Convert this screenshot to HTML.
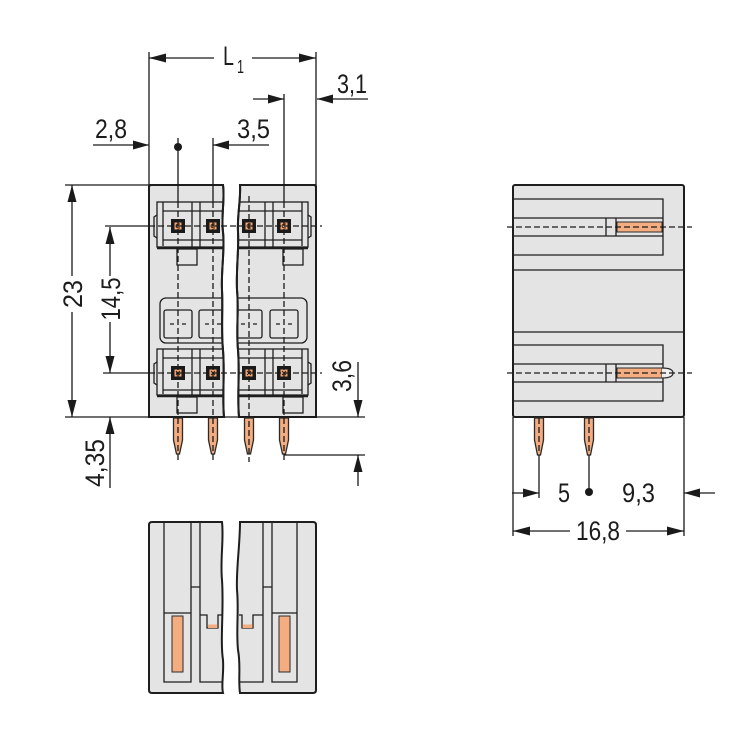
<!DOCTYPE html>
<html><head><meta charset="utf-8"><style>
html,body{margin:0;padding:0;background:#fff;}
svg{display:block;}
text{font-family:"Liberation Sans",Arial,sans-serif;fill:#1c1c1c;}
</style></head><body>
<svg width="750" height="750" viewBox="0 0 750 750" xmlns="http://www.w3.org/2000/svg">
<defs>
<clipPath id="fc">
<path d="M151,185 H223 C225,200 221,215 223,232 C225,250 221,270 222,290 C223,310 221,330 223,350 C225,375 222,395 224,417 H149 V187 Q149,185 151,185 Z"/>
<path d="M240,185 H314 Q316,185 316,187 V417 H239 C237,395 240,375 238,350 C236,330 239,310 237,290 C236,270 239,250 238,232 C237,215 241,200 240,185 Z"/>
</clipPath>
</defs>

<!-- ============ FRONT VIEW ============ -->
<g fill="#e4e4e4" stroke="#1e1e1e" stroke-width="2">
<path d="M151,185 H223 C225,200 221,215 223,232 C225,250 221,270 222,290 C223,310 221,330 223,350 C225,375 222,395 224,417 H149 V187 Q149,185 151,185 Z"/>
<path d="M240,185 H314 Q316,185 316,187 V417 H239 C237,395 240,375 238,350 C236,330 239,310 237,290 C236,270 239,250 238,232 C237,215 241,200 240,185 Z"/>
</g>

<g clip-path="url(#fc)" fill="none" stroke="#1e1e1e" stroke-width="1.3">
<!-- upper block -->
<rect x="157" y="202" width="151" height="45"/>
<path d="M163,202 V246 M302,202 V246 M163,211 H302 M163,240 H302 M192,202 V247 M200,202 V247 M265,202 V247 M273,202 V247"/>
<path d="M157,215 L154,217 V236 L157,238 M308,215 L311,217 V236 L308,238"/>
<path d="M157,248 H308" stroke-width="2.6"/>
<rect x="177" y="249" width="20" height="16"/>
<rect x="283" y="249" width="20" height="16"/>
<!-- middle -->
<rect x="160" y="298" width="147" height="45" rx="6"/>
<rect x="164" y="310" width="28" height="28" rx="2"/>
<rect x="199" y="310" width="28" height="28" rx="2"/>
<rect x="235" y="310" width="27" height="28" rx="2"/>
<rect x="270" y="310" width="28" height="28" rx="2"/>
<path d="M170,324 H174 M182,324 H186 M205,324 H209 M217,324 H221 M241,324 H245 M253,324 H257 M276,324 H280 M288,324 H292"/>
<!-- lower block -->
<rect x="157" y="349" width="151" height="46"/>
<path d="M163,349 V394 M302,349 V394 M163,358 H302 M163,390 H302 M192,349 V396 M200,349 V396 M265,349 V396 M273,349 V396"/>
<path d="M157,362 L154,364 V383 L157,385 M308,362 L311,364 V383 L308,385"/>
<path d="M157,396 H308" stroke-width="2.4"/>
<rect x="177" y="397" width="20" height="16"/>
<rect x="283" y="397" width="20" height="16"/>
</g>
<!-- re-stroke break edges -->
<g fill="none" stroke="#1e1e1e" stroke-width="2">
<path d="M151,185 H223 C225,200 221,215 223,232 C225,250 221,270 222,290 C223,310 221,330 223,350 C225,375 222,395 224,417 H149 V187 Q149,185 151,185 Z"/>
<path d="M240,185 H314 Q316,185 316,187 V417 H239 C237,395 240,375 238,350 C236,330 239,310 237,290 C236,270 239,250 238,232 C237,215 241,200 240,185 Z"/>
</g>

<!-- contacts -->
<g>
<rect x="171" y="219" width="14" height="14" fill="#1a1a1a"/><rect x="174.5" y="222.5" width="7" height="7" fill="#f2a676"/>
<rect x="206" y="219" width="14" height="14" fill="#1a1a1a"/><rect x="209.5" y="222.5" width="7" height="7" fill="#f2a676"/>
<rect x="242" y="219" width="14" height="14" fill="#1a1a1a"/><rect x="245.5" y="222.5" width="7" height="7" fill="#f2a676"/>
<rect x="277" y="219" width="14" height="14" fill="#1a1a1a"/><rect x="280.5" y="222.5" width="7" height="7" fill="#f2a676"/>
<rect x="171" y="366" width="14" height="14" fill="#1a1a1a"/><rect x="174.5" y="369.5" width="7" height="7" fill="#f2a676"/>
<rect x="206" y="366" width="14" height="14" fill="#1a1a1a"/><rect x="209.5" y="369.5" width="7" height="7" fill="#f2a676"/>
<rect x="242" y="366" width="14" height="14" fill="#1a1a1a"/><rect x="245.5" y="369.5" width="7" height="7" fill="#f2a676"/>
<rect x="277" y="366" width="14" height="14" fill="#1a1a1a"/><rect x="280.5" y="369.5" width="7" height="7" fill="#f2a676"/>
<g fill="none" stroke="#3a2010" stroke-width="1">
<path d="M180,224 Q176,224 176,226 Q176,228 180,228 M215,224 Q211,224 211,226 Q211,228 215,228 M251,224 Q247,224 247,226 Q247,228 251,228 M286,224 Q282,224 282,226 Q282,228 286,228"/>
<path d="M176,371 L180,375 M180,371 L176,375 M211,371 L215,375 M215,371 L211,375 M247,371 L251,375 M251,371 L247,375 M282,371 L286,375 M286,371 L282,375"/>
</g>
</g>

<!-- front pins -->
<g fill="#f4ad80" stroke="#2a2a2a" stroke-width="1.3">
<path d="M173.5,418 V440 L176.5,454 H179.5 L182.5,440 V418 Z"/>
<path d="M208.5,418 V440 L211.5,454 H214.5 L217.5,440 V418 Z"/>
<path d="M244.5,418 V440 L247.5,454 H250.5 L253.5,440 V418 Z"/>
<path d="M279.5,418 V440 L282.5,454 H285.5 L288.5,440 V418 Z"/>
</g>

<!-- dashed axes -->
<g stroke="#1a1a1a" stroke-width="1.3" fill="none" stroke-dasharray="6,3">
<path d="M178,202 V462 M213,202 V462 M249,196 V462 M284,202 V462"/>
<path d="M149,226 H322 M149,373 H322"/>
</g>

<!-- extension / dimension lines front -->
<g stroke="#1a1a1a" stroke-width="1.3" fill="none">
<path d="M149,52 V185 M316,52 V185"/>
<path d="M284,94 V202 M213,138 V202 M178,138 V202"/>
<path d="M65,185 H149 M65,417 H365 M105,226 H149 M103,373 H149 M284,455 H365"/>
<path d="M149,58 H214 M252,58 H316"/>
<path d="M253,99 H284 M317,99 H368"/>
<path d="M93,145 H149 M213,145 H269"/>
<path d="M72,185 V276 M72,312 V417"/>
<path d="M110,227 V276 M110,322 V373"/>
<path d="M358,362 V417 M358,455 V486"/>
<path d="M110,417 V488"/>
</g>
<circle cx="178" cy="147" r="4" fill="#1a1a1a"/>
<g fill="#1a1a1a">
<polygon points="149,58 166,53.5 166,62.5"/>
<polygon points="316,58 299,53.5 299,62.5"/>
<polygon points="284,99 268,94.5 268,103.5"/>
<polygon points="317,99 333,94.5 333,103.5"/>
<polygon points="149,145 133,140.5 133,149.5"/>
<polygon points="213,145 229,140.5 229,149.5"/>
<polygon points="72,185 67.5,202 76.5,202"/>
<polygon points="72,417 67.5,400 76.5,400"/>
<polygon points="110,227 105.5,244 114.5,244"/>
<polygon points="110,373 105.5,356 114.5,356"/>
<polygon points="358,417 353.5,400 362.5,400"/>
<polygon points="358,455 353.5,472 362.5,472"/>
<polygon points="110,417 105.5,434 114.5,434"/>
</g>

<!-- front text -->
<text x="223" y="65" font-size="27" textLength="11" lengthAdjust="spacingAndGlyphs">L</text>
<text x="237" y="73" font-size="18" textLength="7" lengthAdjust="spacingAndGlyphs">1</text>
<text x="337" y="93" font-size="27" textLength="30" lengthAdjust="spacingAndGlyphs">3,1</text>
<text x="95" y="138" font-size="27" textLength="32" lengthAdjust="spacingAndGlyphs">2,8</text>
<text x="237" y="138" font-size="27" textLength="33" lengthAdjust="spacingAndGlyphs">3,5</text>
<text transform="translate(82,294) rotate(-90)" font-size="27" text-anchor="middle" textLength="28" lengthAdjust="spacingAndGlyphs">23</text>
<text transform="translate(120,299) rotate(-90)" font-size="27" text-anchor="middle" textLength="43" lengthAdjust="spacingAndGlyphs">14,5</text>
<text transform="translate(351,376) rotate(-90)" font-size="27" text-anchor="middle" textLength="32" lengthAdjust="spacingAndGlyphs">3,6</text>
<text transform="translate(104,463) rotate(-90)" font-size="27" text-anchor="middle" textLength="48" lengthAdjust="spacingAndGlyphs">4,35</text>

<!-- ============ SIDE VIEW ============ -->
<rect x="513" y="185" width="171" height="232" rx="2" fill="#e4e4e4" stroke="#1e1e1e" stroke-width="2"/>
<g fill="none" stroke="#1e1e1e" stroke-width="1.3">
<path d="M513,199 H663 V255 H513 M513,218 H606 M513,236 H606 M606,218 H616 V236 H606 Z M616,218 H663 M616,236 H663"/>
<path d="M513,270 H684 M513,332 H684"/>
<path d="M513,345 H663 V401 H513 M513,364 H606 M513,382 H606 M606,364 H616 V382 H606 Z M616,364 H663 M616,382 H663"/>
</g>
<rect x="617" y="222" width="45" height="10" fill="#f4ad80" stroke="#2a2a2a" stroke-width="1"/>
<rect x="617" y="368" width="45" height="10" fill="#f4ad80" stroke="#2a2a2a" stroke-width="1"/>
<path d="M662,368 Q673,368 673,373 Q673,378 662,378" fill="#efefef" stroke="#2a2a2a" stroke-width="1.2"/>
<g fill="#f4ad80" stroke="#2a2a2a" stroke-width="1.3">
<path d="M534.5,418 V440 L537.5,455 H540.5 L543.5,440 V418 Z"/>
<path d="M584.5,418 V440 L587.5,455 H590.5 L593.5,440 V418 Z"/>
</g>
<g stroke="#1a1a1a" stroke-width="1.3" fill="none" stroke-dasharray="6,3">
<path d="M507,227 H692 M507,373 H692"/>
<path d="M539,418 V452 M589,418 V452"/>
</g>
<g stroke="#1a1a1a" stroke-width="1.3" fill="none">
<path d="M539,455 V498 M589,455 V492"/>
<path d="M513,417 V536 M684,417 V536"/>
<path d="M512,493 H539 M684,493 H715"/>
<path d="M513,531 H570 M626,531 H684"/>
</g>
<circle cx="589" cy="492" r="4" fill="#1a1a1a"/>
<g fill="#1a1a1a">
<polygon points="539,493 523,488.5 523,497.5"/>
<polygon points="684,493 700,488.5 700,497.5"/>
<polygon points="513,531 530,526.5 530,535.5"/>
<polygon points="684,531 667,526.5 667,535.5"/>
</g>
<text x="558" y="502" font-size="27" textLength="12" lengthAdjust="spacingAndGlyphs">5</text>
<text x="622" y="502" font-size="27" textLength="33" lengthAdjust="spacingAndGlyphs">9,3</text>
<text x="576" y="540" font-size="27" textLength="44" lengthAdjust="spacingAndGlyphs">16,8</text>

<!-- ============ BOTTOM VIEW ============ -->
<g fill="#e4e4e4" stroke="#1e1e1e" stroke-width="2">
<path d="M152,522 H222 C224,540 220,560 222,580 C224,610 220,640 223,660 C224,675 221,685 223,693 H152 Q149,693 149,690 V525 Q149,522 152,522 Z"/>
<path d="M240,522 H313 Q316,522 316,525 V690 Q316,693 313,693 H240 C238,680 241,665 238,650 C236,630 239,610 237,590 C236,570 240,545 240,522 Z"/>
</g>
<g fill="none" stroke="#1e1e1e" stroke-width="1.3">
<path d="M164,523 V682 H191 V523 M164,613 H191"/>
<path d="M200,523 V682 H222 M191,587 H200"/>
<path d="M200,615 H207 V628 H218 V615 H222"/>
<path d="M297,523 V682 H272 V523 M272,613 H297"/>
<path d="M263,523 V682 H239 M263,587 H272"/>
<path d="M239,615 H242 V628 H253 V615 H263"/>
</g>
<rect x="172" y="616" width="11" height="56" fill="#f4ad80" stroke="#2a2a2a" stroke-width="1"/>
<rect x="279" y="616" width="11" height="56" fill="#f4ad80" stroke="#2a2a2a" stroke-width="1"/>
<rect x="208" y="624.5" width="9.5" height="3.5" fill="#f4ad80"/>
<rect x="242.5" y="624.5" width="10" height="3.5" fill="#f4ad80"/>
</svg>
</body></html>
